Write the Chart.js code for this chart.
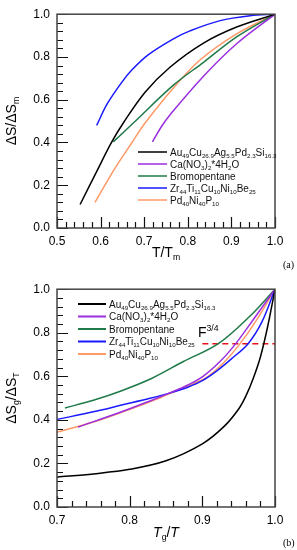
<!DOCTYPE html>
<html>
<head>
<meta charset="utf-8">
<script src="https://cdn.jsdelivr.net/npm/chart.js@4.4.0/dist/chart.umd.min.js"></script>
<style>
  html, body { margin: 0; padding: 0; background: #fff; }
  #wrap { position: relative; width: 297px; height: 550px; }
  canvas { position: absolute; left: 0; }
  #chartA { top: 0; }
  #chartB { top: 275px; }
</style>
</head>
<body>
<div id="wrap">
  <canvas id="chartA" width="297" height="275"></canvas>
  <canvas id="chartB" width="297" height="275"></canvas>
</div>
<script>
// ---- data: panel (a), dS/dSm vs T/Tm ----
const seriesNames = [
  'Au_{49}Cu_{26.9}Ag_{5.5}Pd_{2.3}Si_{16.3}',
  'Ca(NO_{3})_{2}*4H_{2}O',
  'Bromopentane',
  'Zr_{44}Ti_{11}Cu_{10}Ni_{10}Be_{25}',
  'Pd_{40}Ni_{40}P_{10}'
];
const seriesColors = ['#000000', '#9b2fe0', '#1f7a4a', '#1a1aff', '#ff9966'];

const aAuX = [0.553, 0.59, 0.625, 0.652, 0.702, 0.759, 0.836, 0.912, 1.0];
const aAuY = [0.11, 0.26, 0.40, 0.491, 0.635, 0.752, 0.865, 0.94, 1.0];
const aCaX = [0.719, 0.740, 0.759, 0.836, 0.912, 1.0];
const aCaY = [0.403, 0.476, 0.529, 0.71, 0.862, 1.0];
const aBrX = [0.629, 0.675, 0.767, 0.836, 0.912, 1.0];
const aBrY = [0.403, 0.491, 0.668, 0.775, 0.894, 1.0];
const aZrX = [0.591, 0.615, 0.648, 0.672, 0.709, 0.767, 0.805, 0.874, 0.943, 1.0];
const aZrY = [0.48, 0.58, 0.68, 0.74, 0.81, 0.885, 0.922, 0.97, 0.993, 1.0];
const aPdX = [0.587, 0.63, 0.672, 0.702, 0.767, 0.828, 0.912, 1.0];
const aPdY = [0.12, 0.27, 0.40, 0.491, 0.655, 0.786, 0.908, 1.0];

// ---- data: panel (b), dSg/dST vs Tg/T ----
const bAuX = [0.7, 0.75, 0.8, 0.85, 0.9, 0.93, 0.95, 0.96, 0.97, 0.98, 0.99, 1.0];
const bAuY = [0.137, 0.152, 0.173, 0.212, 0.29, 0.37, 0.45, 0.51, 0.59, 0.69, 0.83, 1.0];
const bCaX = [0.729, 0.789, 0.828, 0.856, 0.88, 0.901, 0.925, 0.946, 0.97, 1.0];
const bCaY = [0.367, 0.437, 0.487, 0.525, 0.56, 0.60, 0.67, 0.75, 0.86, 1.0];
const bBrX = [0.711, 0.75, 0.789, 0.83, 0.874, 0.922, 0.966, 1.0];
const bBrY = [0.455, 0.49, 0.534, 0.59, 0.668, 0.75, 0.878, 1.0];
const bZrX = [0.7, 0.75, 0.789, 0.828, 0.856, 0.88, 0.9, 0.92, 0.94, 0.963, 0.982, 1.0];
const bZrY = [0.402, 0.437, 0.468, 0.499, 0.524, 0.55, 0.58, 0.625, 0.68, 0.75, 0.85, 1.0];
const bPdX = [0.7, 0.75, 0.789, 0.828, 0.856, 0.88, 0.908, 0.93, 0.952, 0.975, 1.0];
const bPdY = [0.344, 0.39, 0.435, 0.483, 0.522, 0.555, 0.60, 0.665, 0.75, 0.86, 1.0];
const fLineX = [0.9, 1.0];
const fLineY = [0.75, 0.75];

const FONT = '"Liberation Sans", Arial, sans-serif';

function pts(xs, ys) {
    return xs.map((x, i) => ({ x, y: ys[i] }));
}

// draw text with _{sub} and ^{sup} and ~{italic} markup
function richParts(str) {
    const parts = [];
    const re = /([_^~])\{([^}]*)\}/g;
    let last = 0, m;
    while ((m = re.exec(str)) !== null) {
        if (m.index > last) parts.push({ t: str.slice(last, m.index), k: '' });
        parts.push({ t: m[2], k: m[1] });
        last = re.lastIndex;
    }
    if (last < str.length) parts.push({ t: str.slice(last), k: '' });
    return parts;
}

function drawRich(ctx, str, x, y, size, align) {
    const parts = richParts(str);
    const fontFor = p => {
        const s = (p.k === '_' || p.k === '^') ? size * 0.62 : size;
        return (p.k === '~' ? 'italic ' : '') + s + 'px ' + FONT;
    };
    let w = 0;
    parts.forEach(p => { ctx.font = fontFor(p); w += ctx.measureText(p.t).width; });
    let cx = align === 'center' ? x - w / 2 : x;
    ctx.textAlign = 'left';
    ctx.textBaseline = 'alphabetic';
    parts.forEach(p => {
        ctx.font = fontFor(p);
        let dy = 0;
        if (p.k === '_') dy = size * 0.22;
        if (p.k === '^') dy = -size * 0.42;
        ctx.fillText(p.t, cx, y + dy);
        cx += ctx.measureText(p.t).width;
    });
}

// inward minor/major ticks, placed through the chart's own scales
function tickPlugin(xMin, xStep, xCount) {
    return {
        id: 'inTicks',
        afterDatasetsDraw(chart) {
            const ctx = chart.ctx;
            const a = chart.chartArea;
            const sx = chart.scales.x, sy = chart.scales.y;
            ctx.save();
            ctx.strokeStyle = '#111';
            ctx.lineWidth = 1.2;
            ctx.beginPath();
            for (let i = 0; i <= xCount; i++) {
                const px = Math.round(sx.getPixelForValue(xMin + i * xStep)) + 0.5;
                ctx.moveTo(px, a.bottom);
                ctx.lineTo(px, a.bottom - (i % 5 === 0 ? 11 : 6));
            }
            for (let i = 0; i <= 25; i++) {
                const py = Math.round(sy.getPixelForValue(i * 0.04)) + 0.5;
                ctx.moveTo(a.left, py);
                ctx.lineTo(a.left + (i % 5 === 0 ? 11 : 6), py);
            }
            ctx.stroke();
            ctx.restore();
        }
    };
}

function decoPlugin(cfg) {
    return {
        id: 'deco',
        afterDraw(chart) {
            const ctx = chart.ctx;
            const a = chart.chartArea;
            ctx.save();
            // frame
            ctx.setLineDash([]);
            ctx.strokeStyle = '#444';
            ctx.lineWidth = 1.5;
            ctx.strokeRect(a.left, a.top, a.right - a.left, a.bottom - a.top);

            // legend
            ctx.fillStyle = '#111';
            seriesNames.forEach((name, i) => {
                const y = cfg.legendY + i * cfg.legendGap;
                ctx.strokeStyle = seriesColors[i];
                ctx.lineWidth = cfg.legendLineW;
                ctx.beginPath();
                ctx.moveTo(cfg.legendX, y);
                ctx.lineTo(cfg.legendX + cfg.legendLen, y);
                ctx.stroke();
                drawRich(ctx, name, cfg.legendX + cfg.legendLen + 3, y + 3.5, 10, 'left');
            });

            // axis titles
            ctx.fillStyle = '#000';
            drawRich(ctx, cfg.xTitle, (a.left + a.right) / 2, cfg.xTitleY, 14, 'center');
            ctx.save();
            ctx.translate(16, (a.top + a.bottom) / 2);
            ctx.rotate(-Math.PI / 2);
            drawRich(ctx, cfg.yTitle, 0, 0, 14, 'center');
            ctx.restore();
            ctx.font = '10px "Liberation Serif", "Times New Roman", serif';
            ctx.textAlign = 'left';
            ctx.fillText(cfg.tag, 283, cfg.tagY);
            if (cfg.extra) cfg.extra(chart, ctx);
            ctx.restore();
        }
    };
}

function makeChart(id, datasets, cfg) {
    const ctx = document.getElementById(id).getContext('2d');
    return new Chart(ctx, {
        type: 'scatter',
        data: { datasets },
        options: {
            responsive: false,
            animation: false,
            devicePixelRatio: 1,
            layout: { padding: { top: cfg.padTop, right: 22, left: 0, bottom: 0 } },
            plugins: { legend: { display: false }, tooltip: { enabled: false } },
            elements: { point: { radius: 0 }, line: { borderWidth: 1.5 } },
            scales: {
                x: {
                    type: 'linear', min: cfg.xMin, max: 1.0,
                    ticks: { stepSize: 0.1, padding: 6, color: '#000', font: { size: 12, family: FONT },
                        callback: v => Number(v).toFixed(1) },
                    grid: { display: false, drawTicks: false },
                    border: { display: false },
                    afterFit: s => { s.height = cfg.xAxisH; }
                },
                y: {
                    type: 'linear', min: 0, max: 1.0,
                    ticks: { stepSize: 0.2, padding: 7, color: '#000', font: { size: 12, family: FONT },
                        callback: v => Number(v).toFixed(1) },
                    grid: { display: false, drawTicks: false },
                    border: { display: false },
                    afterFit: s => { s.width = 57; }
                }
            }
        },
        plugins: [tickPlugin(cfg.xMin, 0.02, cfg.xMinorCount), decoPlugin(cfg)]
    });
}

function lineSet(data, color, extra) {
    return Object.assign({
        data, borderColor: color, backgroundColor: color, showLine: true,
        pointRadius: 0, borderWidth: 1.5, tension: 0.35
    }, extra || {});
}

makeChart('chartA', [
    lineSet(pts(aAuX, aAuY), seriesColors[0]),
    lineSet(pts(aCaX, aCaY), seriesColors[1]),
    lineSet(pts(aBrX, aBrY), seriesColors[2]),
    lineSet(pts(aZrX, aZrY), seriesColors[3]),
    lineSet(pts(aPdX, aPdY), seriesColors[4])
], {
    xMin: 0.5, padTop: 8, xAxisH: 47, xMinorCount: 25,
    legendX: 138, legendY: 152, legendGap: 12, legendLen: 29, legendLineW: 1.5,
    xTitle: 'T/T_{m}', xTitleY: 257, yTitle: 'ΔS/ΔS_{m}', tag: '(a)', tagY: 268
});

makeChart('chartB', [
    lineSet(pts(bAuX, bAuY), seriesColors[0]),
    lineSet(pts(bCaX, bCaY), seriesColors[1]),
    lineSet(pts(bBrX, bBrY), seriesColors[2]),
    lineSet(pts(bZrX, bZrY), seriesColors[3]),
    lineSet(pts(bPdX, bPdY), seriesColors[4]),
    lineSet(pts(fLineX, fLineY), '#e8121a', { borderDash: [6, 4], tension: 0 })
], {
    xMin: 0.7, padTop: 13, xAxisH: 43, xMinorCount: 15,
    legendX: 78, legendY: 29, legendGap: 12.5, legendLen: 28, legendLineW: 2,
    xTitle: '~{T}_{g}/~{T}', xTitleY: 262, yTitle: 'ΔS_{g}/ΔS_{T}', tag: '(b)', tagY: 271,
    extra: (chart, ctx) => {
        const px = chart.scales.x.getPixelForValue(0.894);
        const py = chart.scales.y.getPixelForValue(0.78);
        ctx.fillStyle = '#000';
        drawRich(ctx, 'F^{3/4}', px, py, 14, 'left');
    }
});
</script>
</body>
</html>
